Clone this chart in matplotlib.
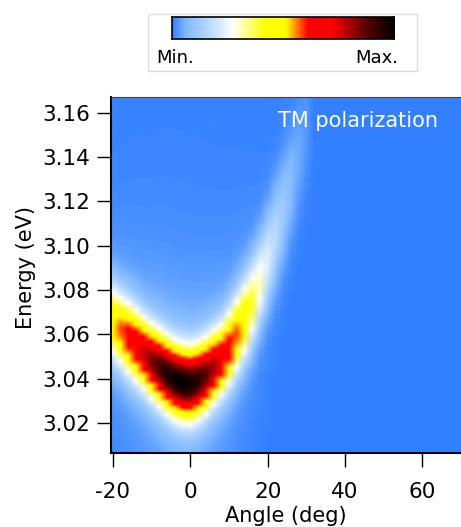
import matplotlib
matplotlib.use("AGG")
import matplotlib.pyplot as plt
from matplotlib.colors import LinearSegmentedColormap
from matplotlib.patches import Rectangle
import numpy as np

# dispersion: peak energy, peak height and width per angle
angle = [-20, -18, -16, -14, -12, -10, -8, -6, -4, -2, 0, 2, 4, 6, 8, 10,
         12, 14, 16, 18, 20, 22, 24, 26, 28, 30, 32]
peak_E = [3.0655, 3.062, 3.0585, 3.055, 3.0515, 3.048, 3.045, 3.042, 3.0395,
          3.038, 3.0375, 3.039, 3.0415, 3.045, 3.0485, 3.0535, 3.060, 3.0665,
          3.074, 3.083, 3.093, 3.104, 3.115, 3.127, 3.140, 3.153, 3.166]
peak_I = [0.50, 0.58, 0.65, 0.71, 0.77, 0.84, 0.91, 0.96, 0.99, 1.0, 0.98,
          0.94, 0.88, 0.81, 0.73, 0.66, 0.58, 0.50, 0.40, 0.31, 0.23, 0.17,
          0.12, 0.08, 0.05, 0.03, 0.0]
sigma = [0.0115, 0.011, 0.011, 0.0108, 0.0105, 0.0105, 0.0105, 0.0105, 0.0105,
         0.0105, 0.0105, 0.0105, 0.0105, 0.0105, 0.0105, 0.011, 0.0115, 0.012,
         0.0125, 0.013, 0.014, 0.015, 0.016, 0.017, 0.018, 0.019, 0.02]

xticks = [-20, 0, 20, 40, 60]
yticks = [3.02, 3.04, 3.06, 3.08, 3.10, 3.12, 3.14, 3.16]

# colour table, blue -> white -> yellow -> red -> black
cmap = LinearSegmentedColormap.from_list("igor", [
    (0.00, (0.20, 0.50, 1.00)),
    (0.06, (0.50, 0.72, 1.00)),
    (0.20, (0.80, 0.90, 1.00)),
    (0.27, (1.00, 1.00, 1.00)),
    (0.42, (1.00, 1.00, 0.00)),
    (0.51, (1.00, 1.00, 0.00)),
    (0.56, (1.00, 0.50, 0.00)),
    (0.61, (1.00, 0.00, 0.00)),
    (0.72, (1.00, 0.00, 0.00)),
    (0.87, (0.35, 0.00, 0.00)),
    (1.00, (0.00, 0.00, 0.00))])

E = np.linspace(3.0, 3.175, 300)
cols = []
for e0, a, s in zip(peak_E, peak_I, sigma):
    core = np.exp(-0.5 * ((E - e0) / s) ** 2)
    halo = 1.0 / (1 + ((E - e0) / 0.03) ** 2)
    cols.append(a * (0.88 * core + 0.12 * halo))
img = np.clip(np.array(cols).T, 0, 1)

plt.rcParams["font.family"] = "DejaVu Sans"
fig = plt.figure(figsize=(4.61, 5.27), dpi=100)
ax = fig.add_axes([0.2408, 0.1404, 0.7592, 0.6755])
ax.set_facecolor(cmap(0.0))
step = angle[1] - angle[0]
ax.imshow(img, origin="lower", aspect="auto", cmap=cmap, vmin=0, vmax=1,
          interpolation="bilinear",
          extent=[angle[0] - step / 2, angle[-1] + step / 2, E[0], E[-1]])
ax.set_xlim(-20.5, 70)
ax.set_ylim(3.0066, 3.167)
ax.set_xticks(xticks)
ax.set_xticklabels([str(t) for t in xticks])
ax.set_yticks(yticks)
ax.set_yticklabels(["%.2f" % t for t in yticks])
ax.tick_params(direction="out", length=10, width=1, labelsize=15.5)
ax.tick_params(axis="x", pad=11)
ax.tick_params(axis="y", pad=5)
ax.spines["right"].set_visible(False)
ax.spines["top"].set_linewidth(0.8)
ax.spines["top"].set_color("#444444")
ax.spines["left"].set_linewidth(1.5)
ax.spines["bottom"].set_linewidth(1.5)
ax.set_xlabel("Angle (deg)", fontsize=15, labelpad=3)
ax.set_ylabel("Energy (eV)", fontsize=15)
ax.yaxis.set_label_coords(-0.215, 0.52)
ax.text(0.935, 0.96, "TM polarization", color="white", fontsize=15,
        transform=ax.transAxes, ha="right", va="top")

# colour scale box on top
fig.patches.append(Rectangle((0.321, 0.8653), 0.5835, 0.108, transform=fig.transFigure,
                             facecolor="white", edgecolor="#dddddd", linewidth=1,
                             zorder=0))
cax = fig.add_axes([0.3731, 0.926, 0.4816, 0.0417])
cax.set_zorder(3)
cax.imshow(np.linspace(0, 1, 256)[None, :], aspect="auto", cmap=cmap,
           extent=[0, 1, 0, 1])
cax.set_xticks([])
cax.set_yticks([])
for sp in cax.spines.values():
    sp.set_linewidth(1.2)
fig.text(0.340, 0.890, "Min.", fontsize=13, ha="left", va="center", zorder=3)
fig.text(0.864, 0.890, "Max.", fontsize=13, ha="right", va="center", zorder=3)

plt.savefig("out.png", dpi=100)
plt.close()
